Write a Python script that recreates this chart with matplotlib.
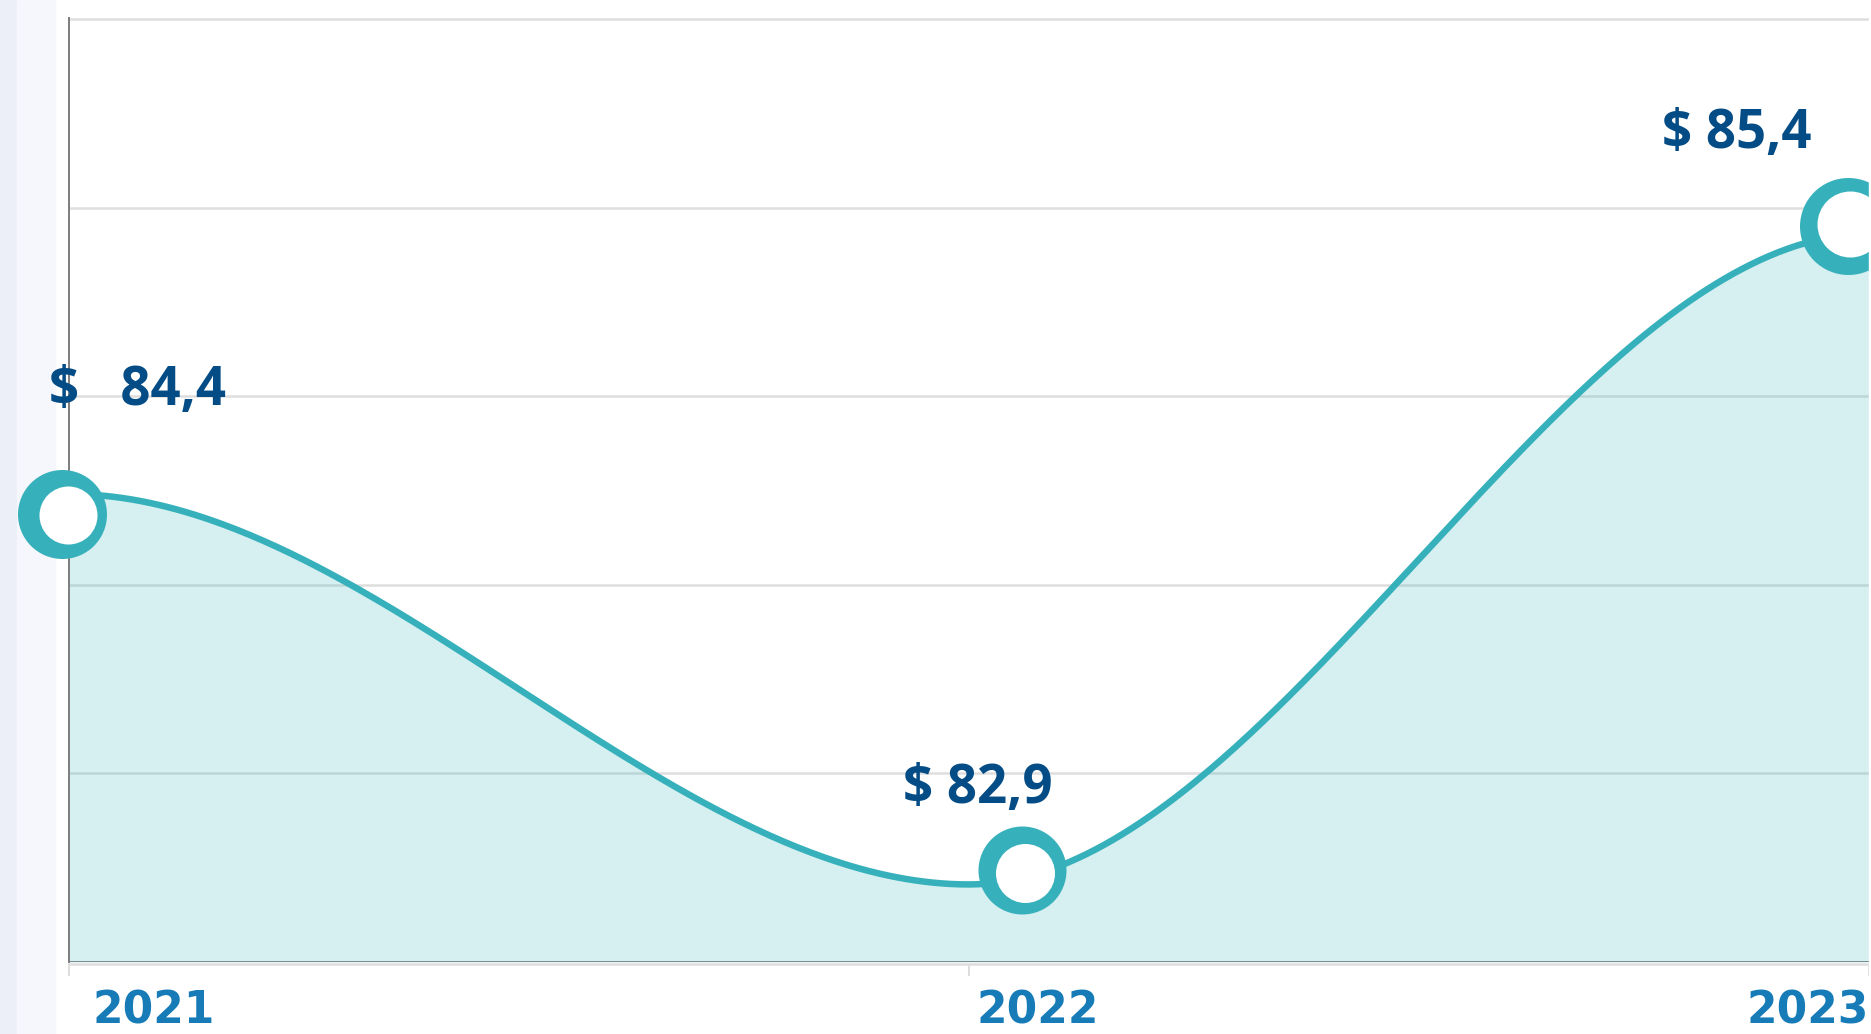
import numpy as np
import matplotlib
matplotlib.use("Agg")
import matplotlib.pyplot as plt
from matplotlib.patches import Rectangle
from matplotlib.transforms import offset_copy

# data
years = [2021, 2022, 2023]
values = [84.4, 82.9, 85.4]
value_labels = ["$   84,4", "$ 82,9", "$ 85,4"]
year_labels = ["2021", "2022", "2023"]

TEAL = "#36B1BB"
NAVY = "#044C85"
BLUE = "#177BB7"

W, H = 1871, 1034


def px(p):
    # pixels -> points at dpi 100
    return p * 72 / 100


def smooth_curve(x, y, n=200):
    xs, ys = [], []
    for i in range(len(x) - 1):
        t = np.linspace(0, 1, n)
        s = 3 * t ** 2 - 2 * t ** 3
        xs.append(x[i] + (x[i + 1] - x[i]) * t)
        ys.append(y[i] + (y[i + 1] - y[i]) * s)
    return np.concatenate(xs), np.concatenate(ys)


fig = plt.figure(figsize=(W / 100, H / 100), dpi=100)

# page strips on the far left
fig.patches.append(Rectangle((0, 0), 17 / W, 1, transform=fig.transFigure,
                             color="#ECEFF7", zorder=-2))
fig.patches.append(Rectangle((17 / W, 0), 38 / W, 1, transform=fig.transFigure,
                             color="#F6F7FD", zorder=-2))

ax = fig.add_axes([69 / W, (H - 962) / H, 1800 / W, (962 - 18) / H])

y_lo, y_step = 82.602, 0.7246
grid_vals = [y_lo + y_step * k for k in range(6)]
ax.set_xlim(years[0], years[-1])
ax.set_ylim(y_lo, y_lo + y_step * 5 + 0.004)

ax.set_yticks(grid_vals)
ax.yaxis.grid(True, color="#DEDEDE", lw=px(2.5))
ax.set_axisbelow(True)
ax.tick_params(axis="y", length=0, labelleft=False)

ax.set_xticks(years)
ax.tick_params(axis="x", length=px(12), width=px(2), color="#DDDDDD",
               labelbottom=False)

for side in ("top", "right"):
    ax.spines[side].set_visible(False)
ax.spines["left"].set_color("#808080")
ax.spines["left"].set_linewidth(px(2))
ax.spines["bottom"].set_color("#DDDDDD")
ax.spines["bottom"].set_linewidth(px(2.5))
ax.spines["bottom"].set_position(("outward", px(2)))

xs, ys = smooth_curve(years, values)
ax.fill_between(xs, ys, y_lo, color=TEAL, alpha=0.2, lw=0, zorder=2)
ax.axhline(y_lo, color="#5E7372", lw=px(2.5), zorder=2.5)
ax.plot(xs, ys, color=TEAL, lw=px(6.5), solid_capstyle="round", zorder=3)

# point markers (ring + white centre), shifted like in the original
outer_off = [(-7, -19.6), (52.5, 14.6), (-21.5, 8)]
inner_off = [(-1, -21), (56, 11), (-19, 9.5)]
outer_d = [89, 88, 97]
inner_d = [58, 59, 66]
for i, (xv, yv) in enumerate(zip(years, values)):
    tr = offset_copy(ax.transData, fig=fig, x=outer_off[i][0], y=outer_off[i][1], units="dots")
    ax.plot(xv, yv, "o", ms=px(outer_d[i]), color=TEAL, mec="none",
            transform=tr, clip_on=False, zorder=5)
    tr = offset_copy(ax.transData, fig=fig, x=inner_off[i][0], y=inner_off[i][1], units="dots")
    ax.plot(xv, yv, "o", ms=px(inner_d[i]), color="white", mec="none",
            transform=tr, clip_on=False, zorder=6)

# value labels
label_off = [(-20, 88.9), (-66, 81.3), (-207, 85.5)]
for i, (xv, yv) in enumerate(zip(years, values)):
    ax.annotate(value_labels[i], (xv, yv), xytext=label_off[i],
                textcoords="offset pixels", ha="left", va="baseline",
                fontsize=38, fontweight="bold", family="Open Sans",
                color=NAVY, annotation_clip=False, zorder=7)

# year labels
year_off = [24, 8, -123]
for i, xv in enumerate(years):
    ax.annotate(year_labels[i], (xv, y_lo), xytext=(year_off[i], -61),
                textcoords="offset pixels", ha="left", va="baseline",
                fontsize=31.6, fontweight="bold", family="DejaVu Sans",
                color=BLUE, annotation_clip=False)

fig.patches.append(Rectangle((1869 / W, 0), 2 / W, 1, transform=fig.transFigure,
                             color="white", zorder=10))

fig.savefig("out.png", dpi=100)
